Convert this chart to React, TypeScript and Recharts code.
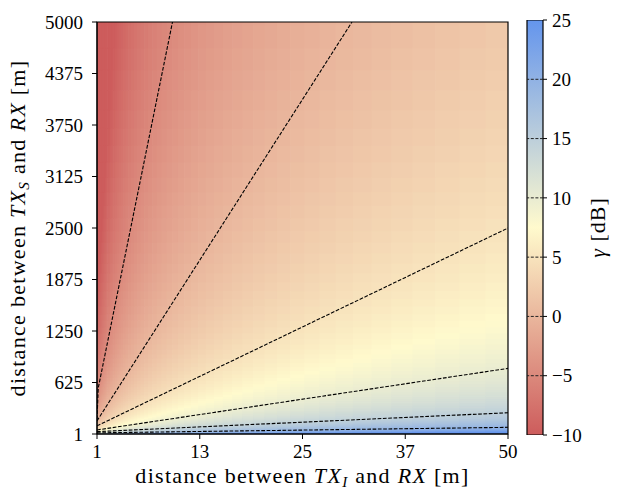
import React from 'react'
import {
  ComposedChart,
  Scatter,
  Line,
  Bar,
  XAxis,
  YAxis,
  ReferenceArea,
  ReferenceLine,
} from 'recharts'

// axis ticks (matplotlib linspace ticks, labels truncated to int)
const xTicks = [1, 13.25, 25.5, 37.75, 50]
const xTickLabels = ['1', '13', '25', '37', '50']
const yTicks = [1, 625.875, 1250.75, 1875.625, 2500.5, 3125.375, 3750.25, 4375.125, 5000]
const yTickLabels = ['1', '625', '1250', '1875', '2500', '3125', '3750', '4375', '5000']
const gammaTicks = [-10, -5, 0, 5, 10, 15, 20, 25]

// dashed contour lines
const contourLevels = [-5, 0, 5, 10, 15, 20]
const contourXs = [[1, 1.15, 10], [1, 31.4], [1, 50], [1, 50], [1, 50], [1, 50]]
const contourYs = [[180, 560, 5000], [160, 5000], [100, 2500], [50, 797], [30, 259], [15, 82]]

// colour map: indianred -> lemonchiffon -> cornflowerblue over [-10, 25] dB
const cmapColors = [[205, 92, 92], [255, 250, 205], [100, 149, 237]]
const gammaMin = -10
const gammaMax = 25
const colorbarData = [{ name: 'gamma', range: [gammaMin, gammaMax] }]

const FONT = '"Liberation Serif", "DejaVu Serif", serif'
const PLOT_W = 411
const PLOT_H = 412
const PX_PER_X = PLOT_W / (50 - 1)
const PX_PER_Y = PLOT_H / (5000 - 1)

// gamma only depends on dS/dI: place it between the contour ratios
const contourLogRatio = contourLevels.map((_, i) => {
  const xs = contourXs[i]
  const ys = contourYs[i]
  return Math.log10(ys[ys.length - 1] / xs[xs.length - 1])
})

function gammaAt(x: number, y: number) {
  const lr = Math.log10(y / x)
  const n = contourLevels.length
  let i = 0
  if (lr <= contourLogRatio[n - 1]) i = n - 2
  else if (lr < contourLogRatio[0]) {
    while (i < n - 2 && lr < contourLogRatio[i + 1]) i++
  }
  const l0 = contourLogRatio[i]
  const l1 = contourLogRatio[i + 1]
  return contourLevels[i] + ((lr - l0) * (contourLevels[i + 1] - contourLevels[i])) / (l1 - l0)
}

function colorFor(g: number) {
  const t = Math.min(1, Math.max(0, (g - gammaMin) / (gammaMax - gammaMin)))
  const s = t < 0.5 ? t * 2 : (t - 0.5) * 2
  const a = t < 0.5 ? cmapColors[0] : cmapColors[1]
  const b = t < 0.5 ? cmapColors[1] : cmapColors[2]
  const c = a.map((v, k) => Math.round(v + (b[k] - v) * s))
  return `rgb(${c[0]},${c[1]},${c[2]})`
}

// sampling grid for the heat map (finer where the field changes fast)
const colEdges: number[] = []
for (let x = 1; x < 50; x += Math.max(0.12, 0.07 * x)) colEdges.push(x)
colEdges.push(50)
const rowEdges: number[] = []
for (let y = 1; y < 5000; y += Math.max(12.5, 0.06 * y)) rowEdges.push(y)
rowEdges.push(5000)

const cells: any[] = []
for (let i = 0; i < colEdges.length - 1; i++) {
  for (let j = 0; j < rowEdges.length - 1; j++) {
    const x0 = colEdges[i], x1 = colEdges[i + 1]
    const y0 = rowEdges[j], y1 = rowEdges[j + 1]
    const x = (x0 + x1) / 2
    const y = (y0 + y1) / 2
    cells.push({ x, y, x0, x1, y0, y1, fill: colorFor(gammaAt(x, y)) })
  }
}

const contours = contourLevels.map((level, i) => ({
  level,
  points: contourXs[i].map((x, k) => ({ x, y: contourYs[i][k] })),
}))

function HeatCell(props: any) {
  const { cx, cy, payload } = props
  if (cx == null || cy == null) return null
  const w = (payload.x1 - payload.x0) * PX_PER_X + 0.7
  const h = (payload.y1 - payload.y0) * PX_PER_Y + 0.7
  return <rect x={cx - w / 2} y={cy - h / 2} width={w} height={h} fill={payload.fill} />
}

function XLabel(props: any) {
  const vb = props.viewBox || {}
  return (
    <text x={vb.x + vb.width / 2} y={vb.y + 49} textAnchor="middle" fontFamily={FONT} fontSize={22} fill="#000" letterSpacing={1.3}>
      distance between <tspan fontStyle="italic">TX</tspan>
      <tspan fontStyle="italic" fontSize={15} dy={4}>I</tspan>
      <tspan dy={-4}> and </tspan>
      <tspan fontStyle="italic">RX</tspan> [m]
    </text>
  )
}

function YLabel(props: any) {
  const vb = props.viewBox || {}
  const cx = 25
  const cy = vb.y + vb.height / 2
  return (
    <text x={cx} y={cy} transform={`rotate(-90 ${cx} ${cy})`} textAnchor="middle" fontFamily={FONT} fontSize={22} fill="#000" letterSpacing={1.3}>
      distance between <tspan fontStyle="italic">TX</tspan>
      <tspan fontStyle="italic" fontSize={15} dy={4}>S</tspan>
      <tspan dy={-4}> and </tspan>
      <tspan fontStyle="italic">RX</tspan> [m]
    </text>
  )
}

function GammaLabel(props: any) {
  const vb = props.viewBox || {}
  const cx = 85
  const cy = vb.y + vb.height / 2
  return (
    <text x={cx} y={cy} transform={`rotate(-90 ${cx} ${cy})`} textAnchor="middle" fontFamily={FONT} fontSize={22} fill="#000" letterSpacing={1}>
      <tspan fontStyle="italic">γ</tspan> [dB]
    </text>
  )
}

const tickStyle = { fill: '#000', fontSize: 19, fontFamily: FONT }

export default function App() {
  return (
    <div style={{ position: 'absolute', left: 0, top: 0, width: 637, height: 493, background: '#fff', fontFamily: FONT }}>
      <div style={{ position: 'absolute', left: 0, top: 0 }}>
        <ComposedChart width={520} height={493} margin={{ top: 22, right: 12, bottom: 0, left: 0 }}>
          <XAxis
            type="number"
            dataKey="x"
            domain={[1, 50]}
            ticks={xTicks}
            allowDataOverflow
            height={59}
            tickSize={5}
            tickMargin={6}
            tick={tickStyle}
            tickFormatter={(v: number) => xTickLabels[xTicks.indexOf(v)] ?? String(v)}
            stroke="#000"
            label={<XLabel />}
          />
          <YAxis
            type="number"
            dataKey="y"
            domain={[1, 5000]}
            ticks={yTicks}
            allowDataOverflow
            width={97}
            tickSize={5}
            tickMargin={9}
            tick={tickStyle}
            tickFormatter={(v: number) => yTickLabels[yTicks.indexOf(v)] ?? String(v)}
            stroke="#000"
            label={<YLabel />}
          />
          <Scatter data={cells} shape={HeatCell} isAnimationActive={false} zIndex={1} />
          {contours.map((c) => (
            <Line
              key={c.level}
              data={c.points}
              dataKey="y"
              type="linear"
              stroke="#000"
              strokeWidth={1.1}
              strokeDasharray="3.7 1.6"
              dot={false}
              activeDot={false}
              isAnimationActive={false}
              zIndex={700}
            />
          ))}
          <ReferenceArea x1={1} x2={50} y1={1} y2={5000} fill="none" stroke="#000" strokeWidth={1.2} fillOpacity={0} zIndex={800} />
        </ComposedChart>
      </div>
      <div style={{ position: 'absolute', left: 520, top: 0 }}>
        <ComposedChart
          width={117}
          height={493}
          data={colorbarData}
          barCategoryGap={0}
          margin={{ top: 20, right: 0, bottom: 58, left: 7 }}
        >
          <defs>
            <linearGradient id="cbarGrad" x1="0" y1="1" x2="0" y2="0">
              <stop offset="0%" stopColor="rgb(205,92,92)" />
              <stop offset="50%" stopColor="rgb(255,250,205)" />
              <stop offset="100%" stopColor="rgb(100,149,237)" />
            </linearGradient>
          </defs>
          <XAxis dataKey="name" type="category" hide />
          <YAxis
            orientation="right"
            type="number"
            domain={[gammaMin, gammaMax]}
            ticks={gammaTicks}
            allowDataOverflow
            width={94}
            tickSize={4}
            tickMargin={5}
            axisLine={false}
            tick={tickStyle}
            tickFormatter={(v: number) => (v < 0 ? '\u2212' + Math.abs(v) : String(v))}
            stroke="#000"
            label={<GammaLabel />}
          />
          <Bar dataKey="range" fill="url(#cbarGrad)" stroke="#000" strokeWidth={1.2} isAnimationActive={false} />
          {contourLevels.map((l) => (
            <ReferenceLine key={l} y={l} stroke="#222" strokeWidth={1} strokeDasharray="3 1.6" zIndex={900} />
          ))}
        </ComposedChart>
      </div>
    </div>
  )
}
